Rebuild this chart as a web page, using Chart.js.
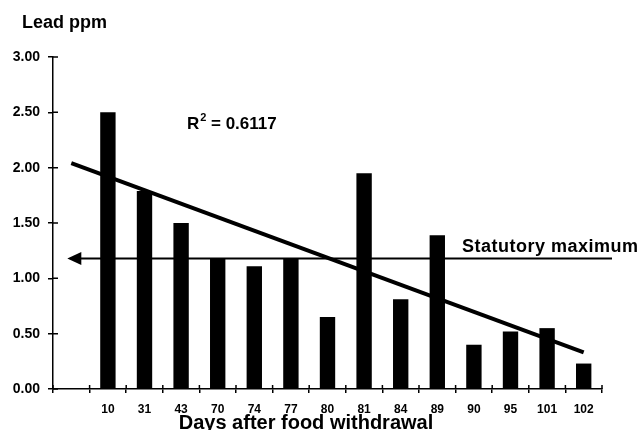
<!DOCTYPE html>
<html lang="en">
<head>
    <meta charset="utf-8">
    <title>Lead ppm</title>
    <style>
        html, body { margin: 0; padding: 0; background: #fff; }
        #wrap { width: 643px; height: 430px; }
    </style>
</head>
<body>
    <div id="wrap"><canvas id="leadChart" width="643" height="430"></canvas></div>

    <script src="https://cdn.jsdelivr.net/npm/chart.js"></script>
    <script>
        // first slot is empty: the trend line starts there
        const days = ['', '10', '31', '43', '70', '74', '77', '80', '81', '84', '89', '90', '95', '101', '102'];
        const leadPpm = [null, 2.50, 1.79, 1.50, 1.18, 1.11, 1.18, 0.65, 1.95, 0.81, 1.39, 0.40, 0.52, 0.55, 0.23];
        const trendLine = [2.04, null, null, null, null, null, null, null, null, null, null, null, null, null, 0.33];
        const statutoryMax = 1.18;
        const yTicks = [0, 0.5, 1, 1.5, 2, 2.5, 3];

        const FONT = 'Liberation Sans, Arial, sans-serif';
        Chart.defaults.font.family = FONT;
        Chart.defaults.color = '#000';

        // texts, arrow line and the inner half of the tick marks
        const extras = {
            id: 'extras',
            afterDatasetsDraw(chart) {
                const ctx = chart.ctx;
                const x = chart.scales.x;
                const y = chart.scales.y;
                ctx.save();
                ctx.strokeStyle = '#000';
                ctx.fillStyle = '#000';

                // tick marks inside the axes
                ctx.lineWidth = 1.5;
                ctx.beginPath();
                yTicks.forEach(v => {
                    const py = y.getPixelForValue(v);
                    ctx.moveTo(x.left, py);
                    ctx.lineTo(x.left + 5, py);
                });
                const step = x.getPixelForValue(1) - x.getPixelForValue(0);
                for (let i = 0; i <= days.length; i++) {
                    const px = x.getPixelForValue(0) - step / 2 + i * step;
                    ctx.moveTo(px, y.bottom);
                    ctx.lineTo(px, y.bottom - 4);
                }
                ctx.stroke();

                // statutory maximum with arrow
                const sy = y.getPixelForValue(statutoryMax);
                const tip = x.getPixelForValue(0) - 4;
                ctx.lineWidth = 2;
                ctx.beginPath();
                ctx.moveTo(tip + 10, sy);
                ctx.lineTo(x.right + 10, sy);
                ctx.stroke();
                ctx.beginPath();
                ctx.moveTo(tip, sy);
                ctx.lineTo(tip + 14, sy - 6.5);
                ctx.lineTo(tip + 14, sy + 6.5);
                ctx.closePath();
                ctx.fill();

                ctx.textBaseline = 'middle';
                ctx.textAlign = 'left';
                ctx.font = 'bold 18px ' + FONT;
                ctx.letterSpacing = '0.5px';
                ctx.fillText('Statutory maximum', 462, sy - 11);
                ctx.letterSpacing = '0px';

                ctx.font = 'bold 18px ' + FONT;
                ctx.fillText('Lead ppm', 22, 23);

                // R squared
                ctx.font = 'bold 17px ' + FONT;
                ctx.fillText('R', 187, 124);
                const rw = ctx.measureText('R').width;
                ctx.font = 'bold 11px ' + FONT;
                ctx.fillText('2', 187 + rw + 1, 118);
                ctx.font = 'bold 17px ' + FONT;
                ctx.fillText(' = 0.6117', 187 + rw + 7, 124);

                // x axis title
                ctx.textAlign = 'center';
                ctx.textBaseline = 'alphabetic';
                ctx.font = 'bold 20px ' + FONT;
                ctx.fillText('Days after food withdrawal', 306, 429);
                ctx.restore();
            }
        };

        new Chart(document.getElementById('leadChart'), {
            type: 'bar',
            data: {
                labels: days,
                datasets: [{
                    type: 'bar',
                    data: leadPpm,
                    backgroundColor: '#000',
                    categoryPercentage: 1,
                    barPercentage: 0.42,
                    order: 2
                }, {
                    type: 'line',
                    data: trendLine,
                    borderColor: '#000',
                    borderWidth: 4,
                    pointRadius: 0,
                    spanGaps: true,
                    order: 1
                }]
            },
            options: {
                responsive: false,
                animation: false,
                layout: { padding: { top: 57, right: 41, left: 0, bottom: 0 } },
                plugins: {
                    legend: { display: false },
                    tooltip: { enabled: false }
                },
                scales: {
                    x: {
                        afterFit: s => { s.height = 41; },
                        grid: { drawOnChartArea: false, tickLength: 4, color: '#000', lineWidth: 1.5 },
                        border: { color: '#000', width: 1.5 },
                        ticks: { font: { size: 12, weight: 'bold' }, padding: 9, maxRotation: 0, autoSkip: false }
                    },
                    y: {
                        min: 0,
                        max: 3,
                        afterFit: s => { s.width = 53; },
                        afterBuildTicks: s => { s.ticks = yTicks.map(v => ({ value: v })); },
                        grid: { drawOnChartArea: false, tickLength: 5, color: '#000', lineWidth: 1.5 },
                        border: { color: '#000', width: 1.5 },
                        ticks: {
                            font: { size: 14, weight: 'bold' },
                            padding: 8,
                            callback: v => v.toFixed(2)
                        }
                    }
                }
            },
            plugins: [extras]
        });
    </script>
</body>
</html>
